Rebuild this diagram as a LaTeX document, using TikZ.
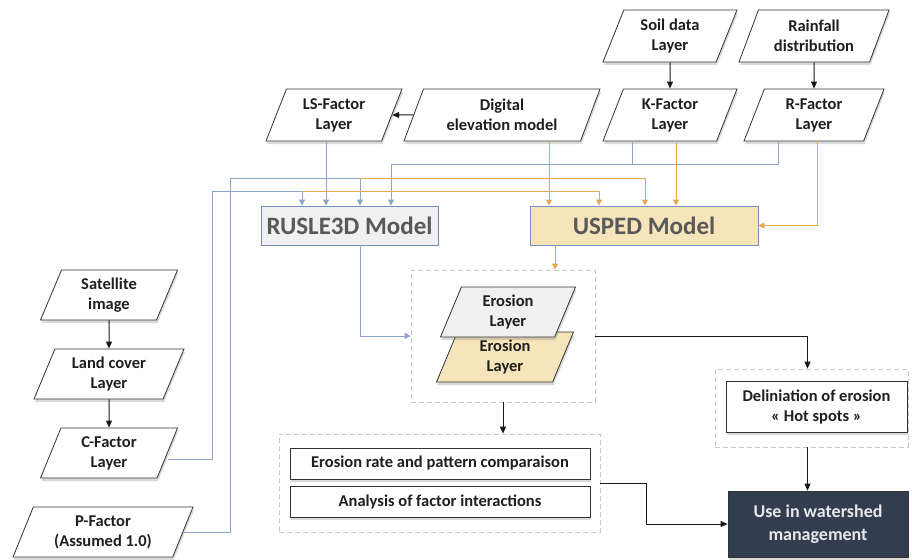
\documentclass[tikz,border=0pt]{standalone}
\usepackage{fontspec}
\setmainfont{Carlito}
\usetikzlibrary{shapes.geometric,arrows.meta,shadows,positioning}

\definecolor{bline}{RGB}{140,165,204}
\definecolor{oline}{RGB}{228,168,82}
\definecolor{modgray}{RGB}{240,240,240}
\definecolor{modtan}{RGB}{246,228,186}
\definecolor{modedge}{RGB}{112,142,190}
\definecolor{navy}{RGB}{50,62,80}
\definecolor{dashgray}{RGB}{200,200,200}

\tikzset{
  txt/.style={font=\bfseries\fontsize{16.5}{20}\selectfont, text=black!88},
  para/.style={txt, trapezium, trapezium left angle=60, trapezium right angle=120,
    trapezium stretches body, draw=black!80, line width=0.8pt, fill=white, align=center,
    inner xsep=1pt, inner ysep=1pt, minimum height=52pt,
    drop shadow={shadow xshift=1pt, shadow yshift=-3pt, opacity=0.3}},
  model/.style={draw=modedge, line width=0.9pt, minimum height=39pt,
    font=\bfseries\fontsize{25}{30}\selectfont, text=black!65},
  res/.style={txt, rectangle, draw=black!80, line width=0.8pt, fill=white, align=center,
    drop shadow={shadow xshift=1pt, shadow yshift=-3pt, opacity=0.3}},
  grp/.style={draw=dashgray, dash pattern=on 5pt off 3pt, line width=0.7pt},
  bl/.style={bline, line width=0.9pt, -{Triangle[length=6pt,width=6pt]}},
  ol/.style={oline, line width=0.9pt, -{Triangle[length=6pt,width=6pt]}},
  kl/.style={black!90, line width=1pt, -{Triangle[length=7pt,width=6pt]}}
}

\begin{document}
\begin{tikzpicture}[x=1pt,y=-1pt]
\useasboundingbox (0,0) rectangle (912,559);

% input layers
\node[para, minimum width=134pt] (soil) at (670,36) {Soil data\\Layer};
\node[para, minimum width=150pt] (rain) at (814,36) {Rainfall\\distribution};
\node[para, minimum width=134pt] (kfac) at (670,115) {K-Factor\\Layer};
\node[para, minimum width=140pt] (rfac) at (814,115) {R-Factor\\Layer};
\node[para, minimum width=196pt] (dem) at (502,115) {Digital\\elevation model};
\node[para, minimum width=136pt] (ls) at (334,115) {LS-Factor\\Layer};

\node[para, minimum width=137pt, minimum height=50pt] (sat) at (109,295) {Satellite\\image};
\node[para, minimum width=150pt, minimum height=50pt] (land) at (109,374) {Land cover\\Layer};
\node[para, minimum width=137pt, minimum height=50pt] (cfac) at (109,453) {C-Factor\\Layer};
\node[para, minimum width=180pt, minimum height=50pt] (pfac) at (103,532) {P-Factor\\(Assumed 1.0)};

\draw[kl] (soil) -- (kfac);
\draw[kl] (rain) -- (rfac);
\draw[kl] (dem) -- (ls);
\draw[kl] (sat) -- (land);
\draw[kl] (land) -- (cfac);

%-------------------------------------
% models
\node[model, fill=modgray, minimum width=177pt] (rusle) at (349.5,225.5) {RUSLE3D Model};
\node[model, fill=modtan, minimum width=228pt] (usped) at (644,225.5) {USPED Model};

\coordinate (kr) at (391,164);
\coordinate (cbend) at (212,191);
\coordinate (cj) at (302,191);
\coordinate (pbend) at (230,178);
\coordinate (pj) at (360,178);

\draw[bl] ([xshift=-8pt]ls.south) -- ([xshift=-8pt]ls.south |- rusle.north);
\draw[bline, line width=0.9pt] ([xshift=-38pt]kfac.south) -- ([xshift=-38pt]kfac.south |- kr);
\draw[bl] ([xshift=-36pt]rfac.south) |- (kr) -- (kr |- rusle.north);
\draw[bl] ([yshift=-6pt]cfac.east) -| (cbend) -- (cj) -- (cj |- rusle.north);
\draw[bl] (pfac.east) -| (pbend) -- (pj) -- (pj |- rusle.north);

\draw[ol] (cj) -| ([xshift=-45pt]usped.north);
\draw[ol] (pj) -| ([xshift=1pt]usped.north);
\draw[ol] ([xshift=47pt]dem.south) -- ([xshift=47pt]dem.south |- usped.north);
\draw[ol] ([xshift=6pt]kfac.south) -- ([xshift=6pt]kfac.south |- usped.north);
\draw[ol] ([xshift=3pt]rfac.south) |- (usped.east);

%-------------------------------------
% results
\node[grp, minimum width=184pt, minimum height=132pt] (egrp) at (503,336) {};
\node[para, fill=modtan, minimum width=137pt, minimum height=50pt] (erob) at (505,357) {Erosion\\Layer};
\node[para, fill=modgray, minimum width=135pt, minimum height=50pt] (erot) at (508,312) {Erosion\\Layer};

\node[grp, minimum width=321pt, minimum height=98pt] (bgrp) at (439.5,483) {};
\node[res, minimum width=300pt, minimum height=31pt] (rate) at (440,463.5) {Erosion rate and pattern comparaison};
\node[res, minimum width=300pt, minimum height=31pt] (anly) at (440,501.5) {Analysis of factor interactions};

\node[grp, minimum width=193pt, minimum height=78pt] (hgrp) at (811.5,408) {};
\node[res, minimum width=181pt, minimum height=51pt] (hot) at (816.5,406.5) {Deliniation of erosion\\« Hot spots »};

\node[res, fill=navy, text=white!88!navy, font=\bfseries\fontsize{18}{23}\selectfont,
  minimum width=180pt, minimum height=66pt] (use) at (818,524) {Use in watershed\\management};

\draw[bl] ([xshift=10.5pt]rusle.south) |- (egrp.west);
\draw[ol] ([xshift=-89pt]usped.south) -- ([xshift=-89pt]usped.south |- egrp.north);
\draw[kl] (egrp.east) -| ([xshift=-4pt]hgrp.north);
\draw[kl] (egrp.south) -- (egrp.south |- bgrp.north);
\draw[kl] ([xshift=-4pt]hgrp.south) -- ([xshift=-4pt]hgrp.south |- use.north);
\draw[kl] (bgrp.east) -- ++(46,0) |- (use.west);
\end{tikzpicture}
\end{document}
